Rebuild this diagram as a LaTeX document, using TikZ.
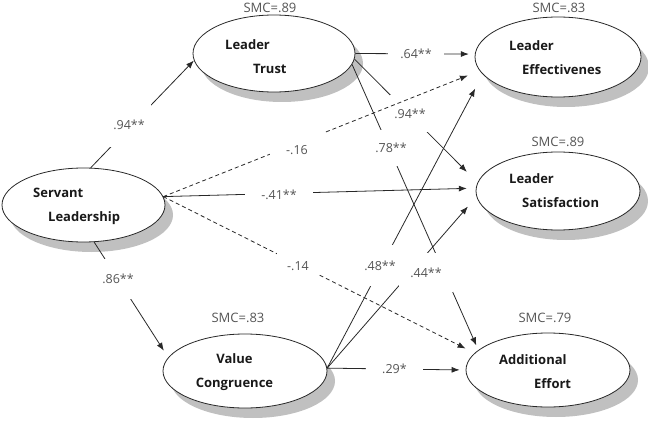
\documentclass[tikz,border=0pt]{standalone}
\usepackage{xcolor}
\usepackage{amsmath,amsthm,amssymb}
\usepackage{fontspec}
\setmainfont{Open Sans}
\usepackage{tikz}
\usetikzlibrary{arrows.meta,shapes.geometric,shadows}

\definecolor{linegray}{RGB}{40,40,40}
\definecolor{labelgray}{RGB}{85,85,85}
\definecolor{shadowgray}{RGB}{192,192,192}

\tikzset{
	latent/.style={ellipse, draw=linegray, line width=0.8pt, fill=white, inner sep=0pt,
		minimum width=164pt, minimum height=76pt,
		drop shadow={shadow xshift=8pt, shadow yshift=-10pt, fill=shadowgray, opacity=1}},
	vartext/.style={anchor=west, align=left, inner sep=0pt, text=black!90,
		font=\fontsize{13}{24}\selectfont\bfseries},
	smc/.style={inner sep=0pt, text=labelgray, font=\fontsize{13}{15}\selectfont},
	coef/.style={fill=white, inner sep=0pt, text=labelgray, font=\fontsize{12.5}{15}\selectfont},
	link/.style={draw=linegray, line width=0.8pt, -{Latex[length=8pt,width=6pt]}},
	dlink/.style={link, dash pattern=on 4pt off 3pt}
}

\begin{document}
\begin{tikzpicture}[x=1pt, y=-1pt]
				\useasboundingbox (0,0) rectangle (648,425);
				\node[latent, minimum width=163pt, minimum height=74pt] (SL) at (83.5, 205) {};
				\node[latent, minimum width=162pt, minimum height=77pt] (LT) at (274, 53.5) {};
				\node[latent, minimum width=166pt, minimum height=80pt] (LE) at (558, 57) {};
				\node[latent, minimum height=78pt] (LS) at (558, 191) {};
				\node[latent, minimum height=74pt] (VC) at (245, 371) {};
				\node[latent, minimum height=74pt] (AE) at (548, 370) {};
				\node[vartext] (SLt) at (33, 206.5) {Servant\\\hspace*{15pt}Leadership};
				\node[vartext] (LTt) at (225, 57) {Leader\\\hspace*{28pt}Trust};
				\node[vartext] (LEt) at (509, 57.5) {Leader\\\hspace*{13pt}Effectivenes};
				\node[vartext] (LSt) at (509, 191) {Leader\\\hspace*{13pt}Satisfaction};
				\node[vartext, anchor=center, align=center] (VCt) at (234.5, 372) {Value\\Congruence};
				\node[vartext] (AEt) at (499, 372) {Additional\\\hspace*{35pt}Effort};
				\node[smc] (smcLT) at (270, 8) {SMC=.89};
				\node[smc] (smcLE) at (559, 8) {SMC=.83};
				\node[smc] (smcLS) at (558, 142) {SMC=.89};
				\node[smc] (smcVC) at (238, 318) {SMC=.83};
				\node[smc] (smcAE) at (545, 318) {SMC=.79};
				\draw[link] (SL.79) to (LT.185);
				\draw[link, shorten >=6pt] (LT.east) to (LE.178);
				\draw[link, shorten >=15pt] (LT.356) to (LS.174);
				\draw[link, shorten >=5pt] (LT.352) to (AE.164);
				\draw[link, shorten >=9pt] (SL.6) to (LS.178);
				\draw[link, shorten >=8pt] (SL.286) to (VC.170);
				\draw[link, shorten >=16pt] (VC.2) to (LE.193);
				\draw[link, shorten >=13pt] (VC.2) to (LS.184);
				\draw[link, shorten >=6pt] (VC.2) to (AE.180);
				\node[coef, minimum width=44pt, minimum height=44pt] (cSLLT) at (129, 125) {.94**};
				\node[coef, minimum width=56pt, minimum height=30pt] (cLTLE) at (416, 54) {.64**};
				\node[coef, minimum width=40pt, minimum height=37pt] (cLTLS) at (410, 114) {.94**};
				\node[coef, minimum width=38pt, minimum height=36pt] (cLTAE) at (391, 148) {.78**};
				\node[coef, minimum width=68pt, minimum height=38pt] (cSLLS) at (279, 195) {-.41**};
				\node[coef, minimum width=34pt, minimum height=40pt] (cSLVC) at (118, 279) {.86**};
				\node[coef, minimum width=33pt, minimum height=41pt] (cVCLE) at (380, 265.5) {.48**};
				\node[coef, minimum width=54pt, minimum height=39pt] (cVCLS) at (426, 272.5) {.44**};
				\node[coef, minimum width=57pt, minimum height=30pt] (cVCAE) at (394.5, 369) {.29*};
				\draw[dlink, shorten >=12.6pt] (SL.6) to (LE.190);
				\draw[dlink, shorten >=10pt] (SL.6) to (AE.167);
				\node[coef, minimum width=55pt, minimum height=38pt] (cSLLE) at (297, 150) {-.16};
				\node[coef, minimum width=42pt, minimum height=38pt] (cSLAE) at (298, 266) {-.14};
\end{tikzpicture}
\end{document}
